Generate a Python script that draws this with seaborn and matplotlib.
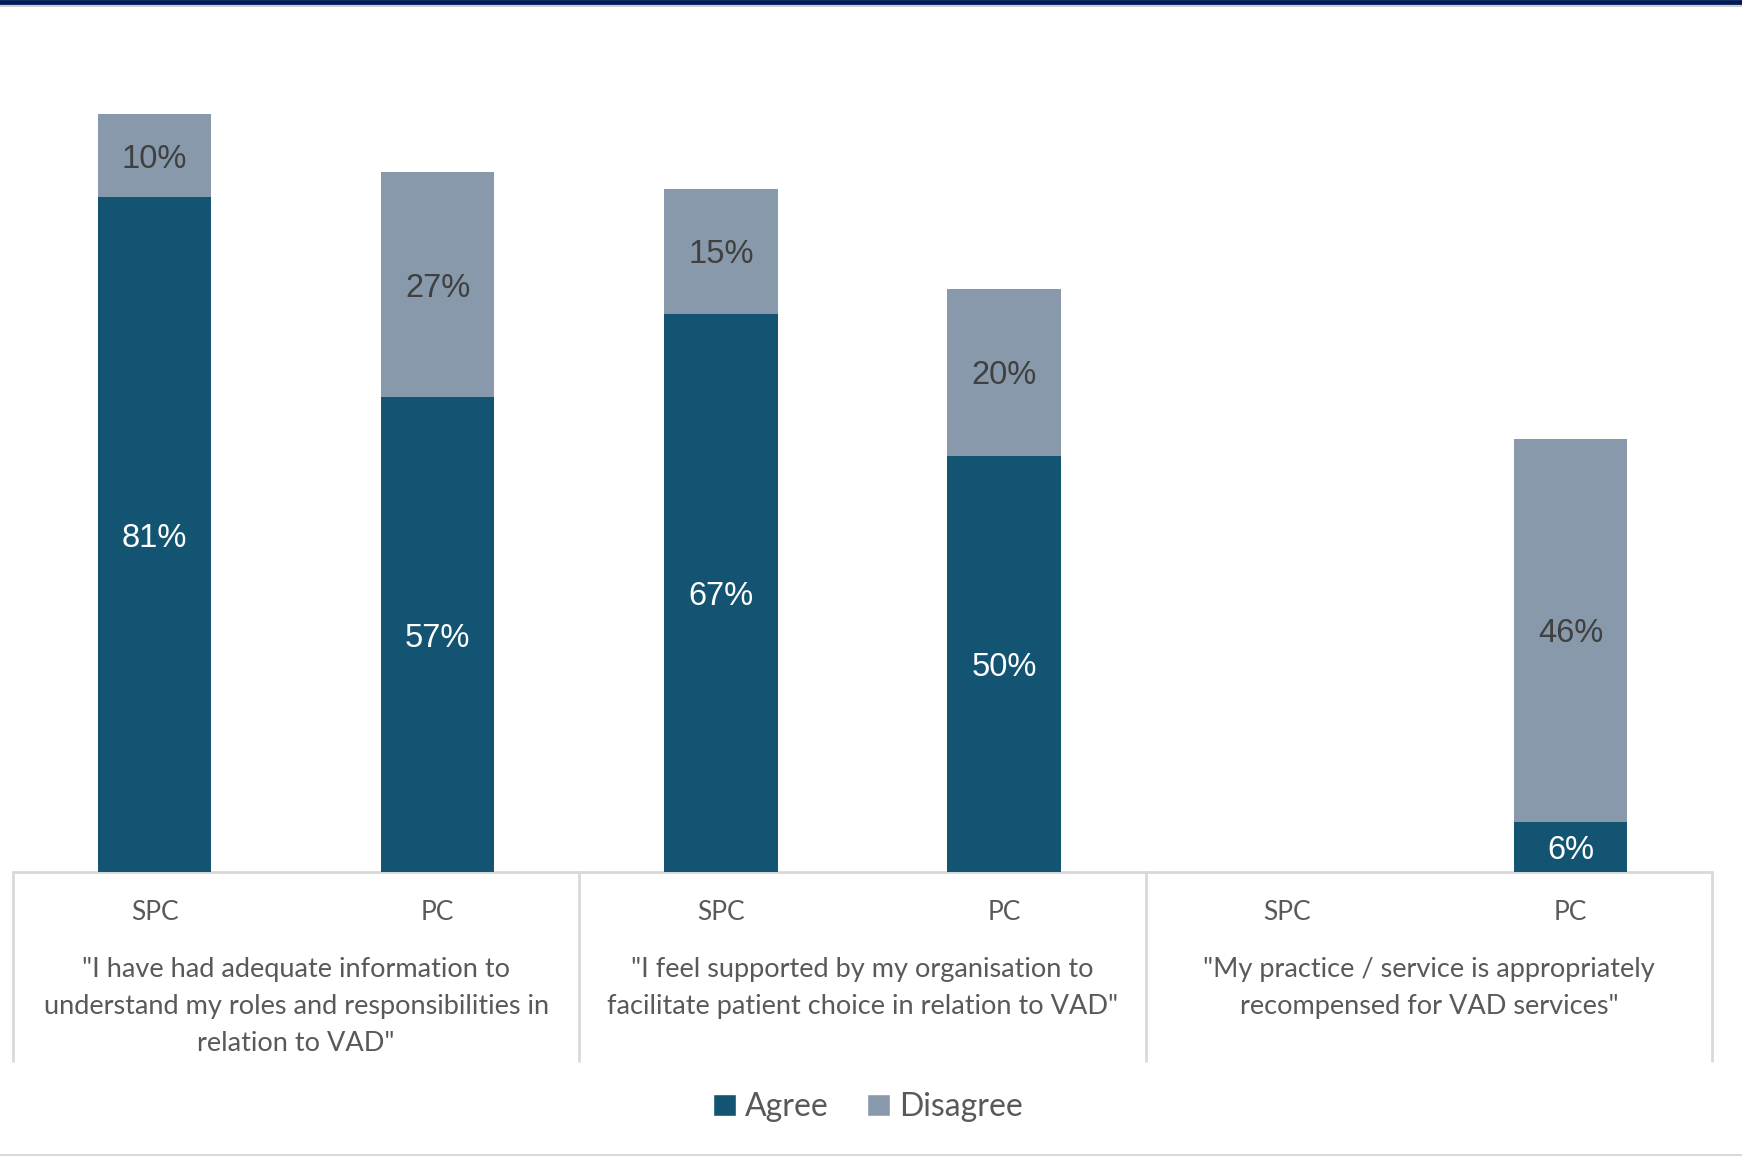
import matplotlib
matplotlib.use("Agg")
import matplotlib.pyplot as plt
from matplotlib.patches import Patch
from matplotlib.lines import Line2D
import seaborn as sns
import pandas as pd

# Survey responses by statement and respondent group (percent)
statements = [
    '"I have had adequate information to\nunderstand my roles and responsibilities in\nrelation to VAD"',
    '"I feel supported by my organisation to\nfacilitate patient choice in relation to VAD"',
    '"My practice / service is appropriately\nrecompensed for VAD services"',
]
groups = ["SPC", "PC", "SPC", "PC", "SPC", "PC"]
agree = [81, 57, 67, 50, 0, 6]
disagree = [10, 27, 15, 20, 0, 46]

AGREE_C = "#135472"
DISAGREE_C = "#8799AB"
TEXT_C = "#595959"
GRID_C = "#D9D9D9"

slots = [f"{i}-{g}" for i, g in enumerate(groups)]
df = pd.DataFrame({"slot": slots, "agree": agree, "disagree": disagree})
df["total"] = df["agree"] + df["disagree"]

sns.set_theme(style="white")
plt.rcParams["font.family"] = ["Lato", "DejaVu Sans"]

W, H = 1742, 1157
fig = plt.figure(figsize=(W / 100, H / 100), dpi=100)
base_y, top_y = 872, 44
x0, x1 = 13, 1712
ax = fig.add_axes([x0 / W, 1 - base_y / H, (x1 - x0) / W, (base_y - top_y) / H])

# Stacked bars: full height in the disagree colour, agree share drawn over it
sns.barplot(data=df, x="slot", y="total", order=slots, color=DISAGREE_C,
            width=0.4, saturation=1, linewidth=0, ax=ax)
sns.barplot(data=df, x="slot", y="agree", order=slots, color=AGREE_C,
            width=0.4, saturation=1, linewidth=0, ax=ax)

ax.set_xlim(-0.5, len(slots) - 0.5)
ax.set_ylim(0, 99.4)
ax.set_xlabel("")
ax.set_ylabel("")
ax.set_yticks([])
ax.set_xticks(range(len(slots)))
ax.set_xticklabels(groups, fontsize=19, color=TEXT_C)
ax.tick_params(axis="x", length=0, pad=20)
for s in ax.spines.values():
    s.set_visible(False)

# Segment value labels
for i, (a, d) in enumerate(zip(agree, disagree)):
    if a > 0:
        ax.text(i, a / 2, f"{a}%", ha="center", va="center_baseline", color="white",
                fontsize=23.5, family=["Liberation Sans", "DejaVu Sans"])
    if d > 0:
        ax.text(i, a + d / 2, f"{d}%", ha="center", va="center_baseline",
                color="#404040", fontsize=23.5,
                family=["Liberation Sans", "DejaVu Sans"])

# Category table outline below the axis
ax.add_line(Line2D([-0.5, len(slots) - 0.5], [0, 0], color=GRID_C, lw=2,
                   clip_on=False, zorder=0))
line_bottom = 1061
for bx in [-0.5, 1.5, 3.5, 5.5]:
    xf = (x0 + (bx + 0.5) * (x1 - x0) / len(slots)) / W
    fig.add_artist(Line2D([xf, xf], [1 - base_y / H, 1 - line_bottom / H],
                          color=GRID_C, lw=2))

# Statement labels under each pair of bars
for k, text in enumerate(statements):
    xc = 2 * k + 0.5
    ax.annotate(text, xy=(xc, H - 957), xycoords=("data", "figure pixels"),
                ha="center", va="top", fontsize=19.5, color=TEXT_C,
                linespacing=1.6, annotation_clip=False)

# Legend
handles = [Patch(facecolor=AGREE_C, label="Agree"),
           Patch(facecolor=DISAGREE_C, label="Disagree")]
fig.legend(handles=handles, loc="center", bbox_to_anchor=(868 / W, 1 - 1107 / H),
           ncol=2, frameon=False, fontsize=23, handlelength=0.7, handleheight=0.7,
           handletextpad=0.3, columnspacing=1.2, labelcolor=TEXT_C)

# Page rules at the top and bottom
fig.add_artist(Line2D([0, 1], [1 - 2 / H, 1 - 2 / H], color="#001A57", lw=3.5))
fig.add_artist(Line2D([0, 1], [1 - 5.5 / H, 1 - 5.5 / H], color="#D0D0D0", lw=1.5))
fig.add_artist(Line2D([0, 1], [1 - 1155 / H, 1 - 1155 / H], color="#D9D9D9", lw=1.5))

fig.savefig("out.png", dpi=100)
